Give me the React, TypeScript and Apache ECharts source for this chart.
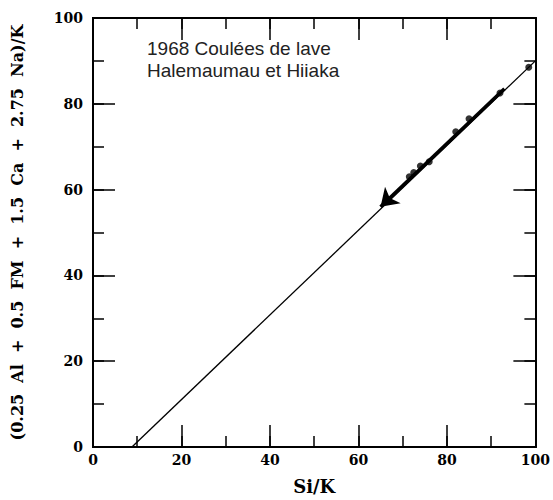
import React, { useEffect, useRef } from "react";
import * as echarts from "echarts";

const xTicks = [0, 20, 40, 60, 80, 100];
const yTicks = [0, 20, 40, 60, 80, 100];
const minorStep = 10;
const lineX = [8.8, 100];
const lineY = [0, 90];
const pointX = [71.5, 72.5, 74, 76, 82, 85, 92, 98.5];
const pointY = [63, 64, 65.5, 66.5, 73.5, 76.5, 82.5, 88.5];
const arrowFrom = [93, 83.5];
const arrowTo = [65, 56];
const titleLines = ["1968 Coulées de lave", "Halemaumau et Hiiaka"];
const xName = "Si/K";
const yName = "(0.25  Al  +  0.5  FM  +  1.5  Ca  +  2.75  Na)/K";

const serifBold = { fontFamily: "DejaVu Serif", fontWeight: "bold" as const, color: "#000" };

function axis(ticks: number[], step: number, len: number, position: string, labels: boolean) {
  return {
    type: "value",
    position,
    min: ticks[0],
    max: ticks[ticks.length - 1],
    interval: step,
    axisLine: { show: true, onZero: false, lineStyle: { color: "#000", width: 2 } },
    axisTick: { show: true, inside: true, length: len, lineStyle: { color: "#000", width: 1.5 } },
    splitLine: { show: false },
    axisLabel: labels ? { show: true, ...serifBold, fontSize: 14 } : { show: false },
  };
}

export default function App() {
  const ref = useRef<HTMLDivElement>(null);
  useEffect(() => {
    if (!ref.current) return;
    const chart = echarts.init(ref.current, null, { renderer: "svg" });
    const majorX = xTicks[1] - xTicks[0];
    const majorY = yTicks[1] - yTicks[0];
    chart.setOption({
      animation: false,
      backgroundColor: "#fff",
      grid: { left: 93, right: 15, top: 18, bottom: 47 },
      xAxis: [
        {
          ...axis(xTicks, majorX, 22, "bottom", true),
          axisLabel: { ...serifBold, fontSize: 14, margin: 6 },
          name: xName,
          nameLocation: "middle",
          nameGap: 30,
          nameTextStyle: { ...serifBold, fontSize: 18 },
        },
        axis(xTicks, minorStep, 11, "bottom", false),
        axis(xTicks, majorX, 22, "top", false),
        axis(xTicks, minorStep, 11, "top", false),
      ],
      yAxis: [
        {
          ...axis(yTicks, majorY, 22, "left", true),
          axisLabel: { ...serifBold, fontSize: 14, margin: 10 },
          name: yName,
          nameLocation: "middle",
          nameGap: 68,
          nameRotate: 90,
          nameTextStyle: { ...serifBold, fontSize: 16 },
        },
        axis(yTicks, minorStep, 11, "left", false),
        axis(yTicks, majorY, 22, "right", false),
        axis(yTicks, minorStep, 11, "right", false),
      ],
      graphic: titleLines.map((t, i) => ({
        type: "text",
        left: 147,
        top: 39 + i * 22,
        style: { text: t, fontFamily: "Liberation Sans", fontSize: 19, fill: "#222" },
      })),
      series: [
        {
          type: "line",
          data: lineX.map((x, i) => [x, lineY[i]]),
          symbol: "none",
          lineStyle: { color: "#000", width: 1.3 },
        },
        {
          type: "lines",
          coordinateSystem: "cartesian2d",
          data: [{ coords: [arrowFrom, arrowTo] }],
          symbol: ["none", "arrow"],
          symbolSize: [6, 17],
          lineStyle: { color: "#000", width: 3.5, opacity: 1 },
        },
        {
          type: "scatter",
          data: pointX.map((x, i) => [x, pointY[i]]),
          symbolSize: 7,
          itemStyle: { color: "#000" },
        },
      ],
    });
    return () => chart.dispose();
  }, []);
  return <div ref={ref} style={{ position: "fixed", left: 0, top: 0, width: 553, height: 500 }} />;
}
